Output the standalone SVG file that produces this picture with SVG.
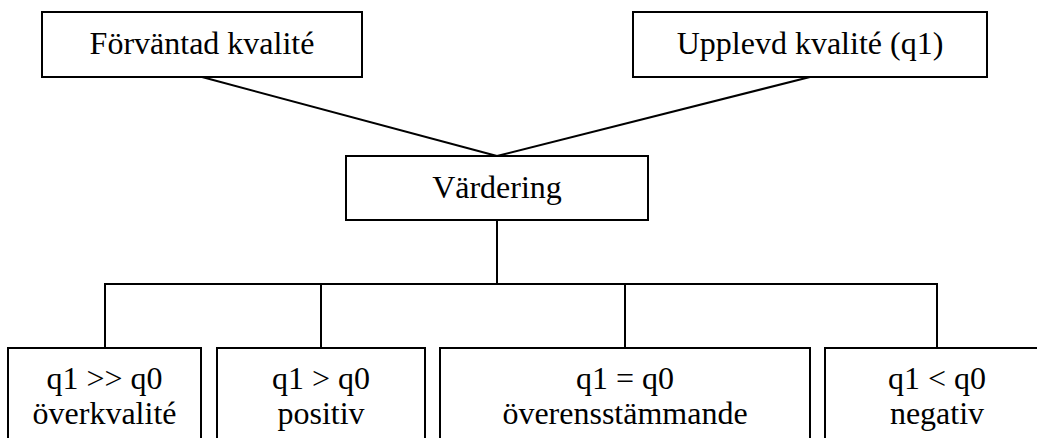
<svg xmlns="http://www.w3.org/2000/svg" width="1037" height="438" viewBox="0 0 1037 438">
  <style>
    .box { fill: #ffffff; stroke: #000000; stroke-width: 2; }
    .lbl { font-family: "Liberation Serif", "Times New Roman", serif; font-size: 32px; fill: #000000; text-anchor: middle; }
    .wire { fill: none; stroke: #000000; stroke-width: 2; }
  </style>
  <rect width="1037" height="438" fill="#ffffff"/>

  <!-- connectors -->
  <g id="connectors">
    <line class="wire" x1="202" y1="77" x2="497" y2="156"/>
    <line class="wire" x1="810" y1="77" x2="497" y2="156"/>
    <line class="wire" x1="497" y1="220" x2="497" y2="284"/>
    <line class="wire" x1="104" y1="284" x2="938" y2="284"/>
    <line class="wire" x1="105" y1="284" x2="105" y2="348"/>
    <line class="wire" x1="321" y1="284" x2="321" y2="348"/>
    <line class="wire" x1="625" y1="284" x2="625" y2="348"/>
    <line class="wire" x1="937" y1="284" x2="937" y2="348"/>
  </g>

  <g id="forvantad">
    <rect class="box" x="42" y="12" width="320" height="65"/>
    <text class="lbl" x="202" y="54">Förväntad kvalité</text>
  </g>

  <g id="upplevd">
    <rect class="box" x="633" y="12" width="354" height="65"/>
    <text class="lbl" x="810" y="54">Upplevd kvalité (q1)</text>
  </g>

  <g id="vardering">
    <rect class="box" x="346" y="156" width="302" height="64"/>
    <text class="lbl" x="497" y="198">Värdering</text>
  </g>

  <g id="overkvalite">
    <rect class="box" x="8" y="348" width="193" height="110"/>
    <text class="lbl" x="104.5" y="389">q1 &gt;&gt; q0</text>
    <text class="lbl" x="104.5" y="424">överkvalité</text>
  </g>

  <g id="positiv">
    <rect class="box" x="217" y="348" width="208" height="110"/>
    <text class="lbl" x="321" y="389">q1 &gt; q0</text>
    <text class="lbl" x="321" y="424">positiv</text>
  </g>

  <g id="overensstammande">
    <rect class="box" x="440" y="348" width="370" height="110"/>
    <text class="lbl" x="625" y="389">q1 = q0</text>
    <text class="lbl" x="625" y="424">överensstämmande</text>
  </g>

  <g id="negativ">
    <rect class="box" x="825" y="348" width="224" height="110"/>
    <text class="lbl" x="937" y="389">q1 &lt; q0</text>
    <text class="lbl" x="937" y="424">negativ</text>
  </g>
</svg>
